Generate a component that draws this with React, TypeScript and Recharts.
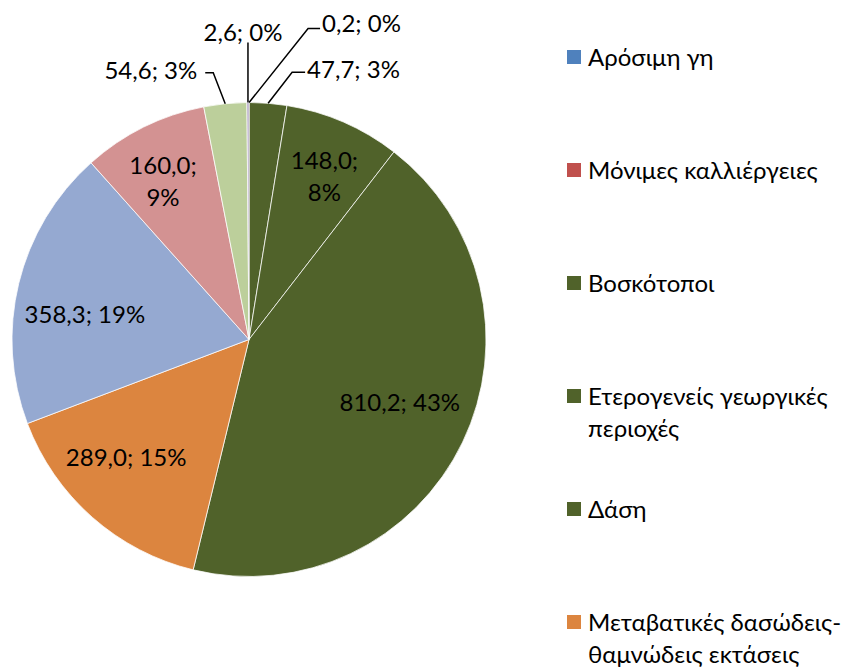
import { PieChart, Pie, Cell, Legend } from "recharts";

const categories = [
  "Αρόσιμη γη",
  "Μόνιμες καλλιέργειες",
  "Βοσκότοποι",
  "Ετερογενείς γεωργικές περιοχές",
  "Δάση",
  "Μεταβατικές δασώδεις-θαμνώδεις εκτάσεις",
  "Εκτάσεις με αραιή βλάστηση",
  "Οικιστικές περιοχές",
  "Υγρότοποι",
  "Εσωτερικά ύδατα",
];
const values = [0.2, 0, 47.7, 148.0, 810.2, 289.0, 358.3, 160.0, 54.6, 2.6];
const colors = [
  "#4F81BD",
  "#C0504D",
  "#50622A",
  "#50622A",
  "#50622A",
  "#DC853F",
  "#95A9D1",
  "#D39292",
  "#BCCF9B",
  "#A99BBD",
];

const data = categories.map((name, i) => ({ name, value: values[i] }));

const FONT = "Lato, 'Open Sans', sans-serif";
const RAD = Math.PI / 180;

// label placement per slice: inside (radius fraction + angle nudge) or outside (leader line)
type InCfg = { kind: "in"; r: number; da: number; twoLines?: boolean };
type OutCfg = { kind: "out"; ex: number; ey: number; tail: number; tx: number; ty: number; anchor: "start" | "end" | "middle" };
type Cfg = InCfg | OutCfg | null;
const labelCfg: Cfg[] = [
  { kind: "out", ex: 59, ey: -74, tail: 12, tx: 73, ty: -79, anchor: "start" },
  null,
  { kind: "out", ex: 24, ey: -31, tail: 13, tx: 39, ty: -33, anchor: "start" },
  { kind: "in", r: 0.76, da: 1.3, twoLines: true },
  { kind: "in", r: 0.69, da: -2.9 },
  { kind: "in", r: 0.72, da: 4.6 },
  { kind: "in", r: 0.7, da: -5.3 },
  { kind: "in", r: 0.76, da: -2.1, twoLines: true },
  { kind: "out", ex: -12, ey: -31, tail: -8, tx: -28, ty: -33, anchor: "end" },
  { kind: "out", ex: 0, ey: -60, tail: 0, tx: -5, ty: -70, anchor: "middle" },
];

const fmt = (v: number) => v.toFixed(1).replace(".", ",");

const renderLabel = (props: any) => {
  const { cx, cy, midAngle, outerRadius, percent, value, index } = props;
  const cfg = labelCfg[index];
  if (!cfg) return null;
  const pct = `${Math.round(percent * 100)}%`;
  // theta: clockwise from 12 o'clock
  const theta = 90 - midAngle;
  if (cfg.kind === "in") {
    const t = (theta + cfg.da) * RAD;
    const r = outerRadius * cfg.r;
    const x = cx + r * Math.sin(t);
    const y = cy - r * Math.cos(t);
    if (cfg.twoLines) {
      return (
        <text x={x} y={y} textAnchor="middle" fill="#000" fontSize={24} fontFamily={FONT}>
          <tspan x={x} dy={-7}>{`${fmt(value)};`}</tspan>
          <tspan x={x} dy={32}>{pct}</tspan>
        </text>
      );
    }
    return (
      <text x={x} y={y} dy={8} textAnchor="middle" fill="#000" fontSize={24} fontFamily={FONT}>
        {`${fmt(value)}; ${pct}`}
      </text>
    );
  }
  const t = theta * RAD;
  const px = cx + outerRadius * Math.sin(t);
  const py = cy - outerRadius * Math.cos(t);
  const ex = px + cfg.ex;
  const ey = py + cfg.ey;
  return (
    <g>
      <polyline
        points={`${px},${py} ${ex},${ey} ${ex + cfg.tail},${ey}`}
        fill="none"
        stroke="#000"
        strokeWidth={1.5}
      />
      <text
        x={px + cfg.tx}
        y={py + cfg.ty}
        dy={8}
        textAnchor={cfg.anchor}
        fill="#000"
        fontSize={24}
        fontFamily={FONT}
      >
        {`${fmt(value)}; ${pct}`}
      </text>
    </g>
  );
};

const renderLegend = () => (
  <div style={{ fontFamily: FONT, fontSize: 24, lineHeight: "32px", color: "#000" }}>
    {categories.map((name, i) => (
      <div key={name} style={{ display: "flex", alignItems: "flex-start", height: 113 }}>
        <span
          style={{
            display: "inline-block",
            width: 14,
            height: 14,
            marginTop: 9,
            marginRight: 7,
            background: colors[i],
            flexShrink: 0,
          }}
        />
        <span style={{ width: 262 }}>{name}</span>
      </div>
    ))}
  </div>
);

export default function App() {
  return (
    <div style={{ position: "absolute", left: 0, top: 0, width: 851, height: 668, overflow: "hidden", background: "#fff" }}>
      <PieChart width={851} height={668} margin={{ top: 0, right: 0, bottom: 0, left: 0 }}>
        <Pie
          data={data}
          dataKey="value"
          nameKey="name"
          cx={249}
          cy={339.5}
          outerRadius={237}
          startAngle={90}
          endAngle={-270}
          stroke="#ffffff"
          strokeWidth={0.75}
          label={renderLabel}
          labelLine={false}
          isAnimationActive={false}
        >
          {data.map((d, i) => (
            <Cell key={d.name} fill={colors[i]} />
          ))}
        </Pie>
        <Legend
          content={renderLegend}
          layout="vertical"
          verticalAlign="top"
          align="right"
          wrapperStyle={{ position: "absolute", left: 567, top: 41, width: 284 }}
        />
      </PieChart>
    </div>
  );
}
